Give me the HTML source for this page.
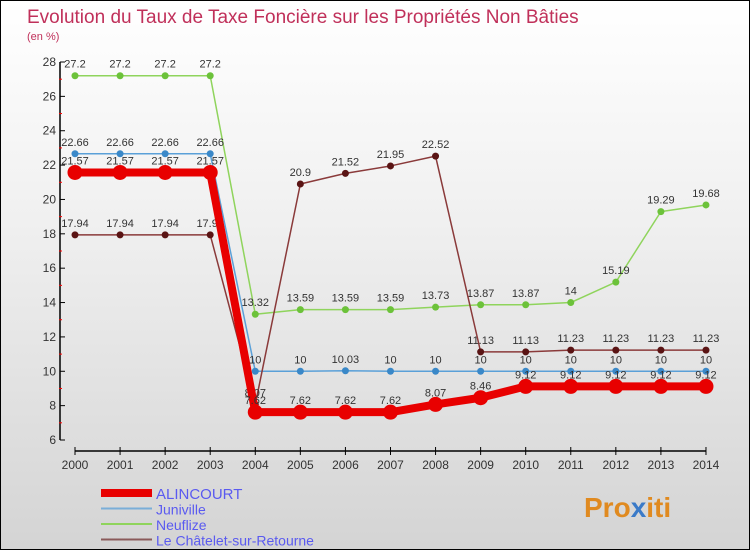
<!DOCTYPE html>
<html><head><meta charset="utf-8"><style>
body{margin:0;width:750px;height:550px;overflow:hidden;font-family:"Liberation Sans",sans-serif}
#wrap{position:relative;width:748px;height:548px;border:1px solid #000;background:linear-gradient(#fff 0%,#f0f0f0 40%,#d4d4d4 100%)}
</style></head><body>
<div id="wrap">
<svg id="svg" width="748" height="548" style="position:absolute;left:0;top:0">
<text x="26" y="22" font-size="19" fill="#c0305a">Evolution du Taux de Taxe Foncière sur les Propriétés Non Bâties</text>
<text x="26" y="39" font-size="11" fill="#c0305a">(en %)</text>
<g id="axes"></g><g id="series"></g><g id="legend"></g>
<text x="583" y="516" font-size="28" font-weight="bold" fill="#e08a20">Pro<tspan fill="#3a7ac8">x</tspan>iti</text>
</svg></div>
<script>
const years=[2000,2001,2002,2003,2004,2005,2006,2007,2008,2009,2010,2011,2012,2013,2014];
const yTicks=[6,8,10,12,14,16,18,20,22,24,26,28];
const alincourt=[21.57,21.57,21.57,21.57,7.62,7.62,7.62,7.62,8.07,8.46,9.12,9.12,9.12,9.12,9.12];
const juniville=[22.66,22.66,22.66,22.66,10,10,10.03,10,10,10,10,10,10,10,10];
const neuflize=[27.2,27.2,27.2,27.2,13.32,13.59,13.59,13.59,13.73,13.87,13.87,14,15.19,19.29,19.68];
const chatelet=[17.94,17.94,17.94,17.94,8.07,20.9,21.52,21.95,22.52,11.13,11.13,11.23,11.23,11.23,11.23];
const seriesNames=["ALINCOURT","Juniville","Neuflize","Le Châtelet-sur-Retourne"];
const NS="http://www.w3.org/2000/svg";
function xs(i){return 74+i*45.07;}
function ys(v){return 439-(v-6)*(378/22);}
function mk(tag,attrs,parent,text){const e=document.createElementNS(NS,tag);for(const k in attrs)e.setAttribute(k,attrs[k]);if(text!==undefined)e.textContent=text;parent.appendChild(e);return e;}
const ax=document.getElementById('axes');
let yl=mk('line',{x1:59,y1:ys(28),x2:59,y2:ys(6),stroke:'#000','stroke-width':1.5},ax);


yTicks.forEach(v=>{
  mk('line',{x1:59,y1:ys(v),x2:64,y2:ys(v),stroke:'#000'},ax);
  if(v<28)mk('line',{x1:58,y1:ys(v+1),x2:61,y2:ys(v+1),stroke:'#f00'},ax);
  let t=mk('text',{x:55,y:ys(v)+4,'font-size':12,fill:'#333','text-anchor':'end'},ax,v);
  
  
});
let xl=mk('line',{x1:xs(0),y1:450,x2:xs(14),y2:450,stroke:'#000','stroke-width':1.5},ax);


years.forEach((y,i)=>{
  mk('line',{x1:xs(i),y1:446,x2:xs(i),y2:454,stroke:'#000'},ax);
  let t=mk('text',{x:xs(i),y:468,'font-size':12,fill:'#333','text-anchor':'middle'},ax,y);
  
  
});
const sg=document.getElementById('series');
const defs=[[neuflize,'#8fd45c','#6cc23a',1.5,3.5],[juniville,'#5aa0d8','#3a88c8',1.5,3.5],[chatelet,'#8a3a3a','#5a1414',1.5,3.5],[alincourt,'#e80000','#e80000',8,7.5]];
const nameIdx=[2,1,3,0];
defs.forEach((d,k)=>{
  const g=mk('g',{},sg);
  
  
  const pts=d[0].map((v,i)=>xs(i)+','+ys(v)).join(' ');
  mk('polyline',{points:pts,fill:'none',stroke:d[1],'stroke-width':d[3],'stroke-linejoin':'round'},g);
  d[0].forEach((v,i)=>{
    const c=mk('circle',{cx:xs(i),cy:ys(v),r:d[4],fill:d[2]},g);
    
    
    mk('text',{x:xs(i),y:ys(v)-8,'font-size':11,fill:'#333','text-anchor':'middle'},g,v);
  });
});
const lg=document.getElementById('legend');
const lc=[['#e80000',8],['#7aaed8',2],['#8fd45c',2],['#8a5a5a',2]];
seriesNames.forEach((n,i)=>{
  const y=492+i*15.5;
  const g=mk('g',{},lg);
  
  
  mk('line',{x1:100,y1:y,x2:151,y2:y,stroke:lc[i][0],'stroke-width':lc[i][1]},g);
  mk('text',{x:155,y:y+6,'font-size':i==0?15:14,fill:'#5a5af0'},g,n);
});
</script>
</body></html>
